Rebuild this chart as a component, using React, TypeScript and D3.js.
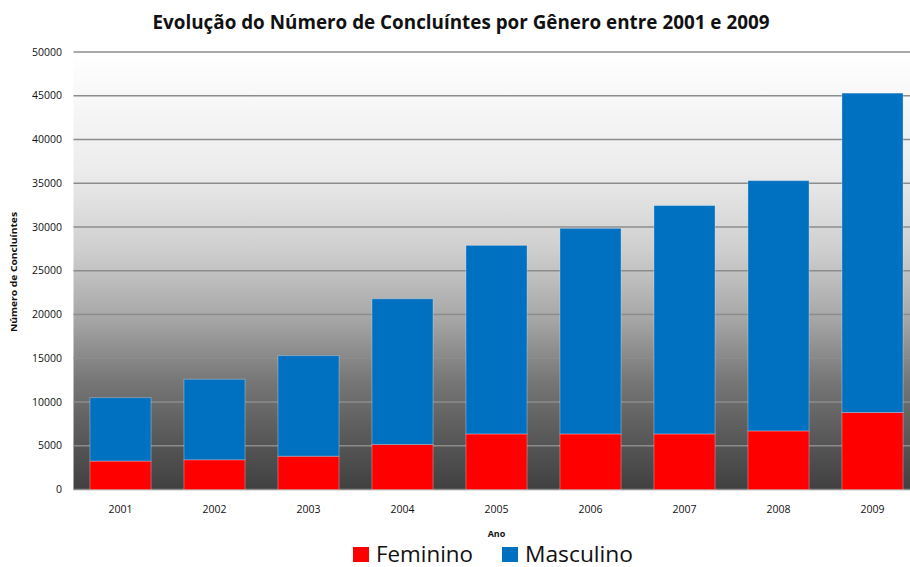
import React from "react";
import * as d3 from "d3";

const years = ["2001", "2002", "2003", "2004", "2005", "2006", "2007", "2008", "2009"];
const feminino = [3250, 3400, 3800, 5150, 6350, 6350, 6350, 6700, 8800];
const masculino = [7250, 9200, 11500, 16650, 21550, 23500, 26100, 28600, 36500];
const seriesNames = ["Feminino", "Masculino"];
const seriesColors = ["#FF0000", "#0070C0"];
const yTicks = [0, 5000, 10000, 15000, 20000, 25000, 30000, 35000, 40000, 45000, 50000];
const title = "Evolução do Número de Concluíntes por Gênero entre 2001 e 2009";
const xTitle = "Ano";
const yTitle = "Número de Concluíntes";

const W = 910;
const H = 567;
const M = { left: 73.5, right: 919.5, top: 52, bottom: 489.5 };
const FONT = "'Open Sans', 'Noto Sans', sans-serif";

export default function App() {
  const rows = years.map((y, i) => ({ year: y, Feminino: feminino[i], Masculino: masculino[i] }));
  const stack = d3.stack<any>().keys(seriesNames)(rows);
  const x = d3.scaleBand<string>().domain(years).range([M.left, M.right]).paddingInner(0.35).paddingOuter(0.175);
  const y = d3.scaleLinear().domain([0, 50000]).range([M.bottom, M.top]);

  return (
    <div style={{ position: "fixed", left: 0, top: 0, width: W, height: H, overflow: "hidden", background: "#fff" }}>
      <svg width={W} height={H} style={{ display: "block" }}>
        <defs>
          <linearGradient id="bg" x1="0" y1="0" x2="0" y2="1">
            <stop offset="0" stopColor="#ffffff" />
            <stop offset="0.27" stopColor="#ececec" />
            <stop offset="0.45" stopColor="#cfcfcf" />
            <stop offset="0.61" stopColor="#a6a6a6" />
            <stop offset="0.75" stopColor="#777777" />
            <stop offset="0.88" stopColor="#595959" />
            <stop offset="1" stopColor="#404040" />
          </linearGradient>
          <filter id="sh" x="-50%" y="-50%" width="200%" height="200%">
            <feDropShadow dx="1.5" dy="1.5" stdDeviation="1" floodColor="#000" floodOpacity="0.35" />
          </filter>
        </defs>
        <rect x={M.left} y={M.top} width={M.right - M.left} height={M.bottom - M.top} fill="url(#bg)" />
        {yTicks.map((t) => (
          <line key={"g" + t} x1={M.left} x2={M.right} y1={y(t)} y2={y(t)} stroke="#8c8c8c" strokeWidth={1.6} />
        ))}
        {stack.map((s, si) =>
          s.map((d, i) => (
            <rect
              key={si + "-" + i}
              x={x(years[i])}
              width={x.bandwidth()}
              y={y(d[1])}
              height={y(d[0]) - y(d[1])}
              fill={seriesColors[si]}
              stroke="rgba(255,255,255,0.3)"
              strokeWidth={1}
            />
          ))
        )}
        <line x1={M.left} x2={M.left} y1={M.top} y2={M.bottom} stroke="#8c8c8c" strokeWidth={2.5} filter="url(#sh)" />
        <line x1={M.left} x2={M.right} y1={M.bottom} y2={M.bottom} stroke="#8c8c8c" strokeWidth={2.5} filter="url(#sh)" />
        {yTicks.map((t) => (
          <text key={"t" + t} x={62} y={y(t)} dy="0.35em" textAnchor="end" fontFamily={FONT} fontSize={10.5} fill="#111">
            {t}
          </text>
        ))}
        {years.map((yr) => (
          <text key={"x" + yr} x={(x(yr) as number) + x.bandwidth() / 2} y={509} dy="0.35em" textAnchor="middle" fontFamily={FONT} fontSize={10.5} fill="#111">
            {yr}
          </text>
        ))}
        <text x={461} y={29} textAnchor="middle" fontFamily={FONT} fontSize={19} fontWeight="bold" fill="#111" textLength={617} lengthAdjust="spacingAndGlyphs">
          {title}
        </text>
        <text x={(M.left + M.right) / 2} y={534} dy="0.35em" textAnchor="middle" fontFamily={FONT} fontSize={9} fontWeight="bold" fill="#111">
          {xTitle}
        </text>
        <text transform={`translate(14,272) rotate(-90)`} textAnchor="middle" dy="0.35em" fontFamily={FONT} fontSize={9} fontWeight="bold" fill="#111" textLength={120} lengthAdjust="spacingAndGlyphs">
          {yTitle}
        </text>
        {seriesNames.map((n, i) => {
          const lx = [353, 502][i];
          const tl = [97, 108][i];
          return (
            <g key={n}>
              <rect x={lx} y={547} width={16} height={15} fill={seriesColors[i]} />
              <text x={lx + 23} y={554.5} dy="0.35em" fontFamily={FONT} fontSize={22} fill="#111" textLength={tl} lengthAdjust="spacingAndGlyphs">
                {n}
              </text>
            </g>
          );
        })}
      </svg>
    </div>
  );
}
